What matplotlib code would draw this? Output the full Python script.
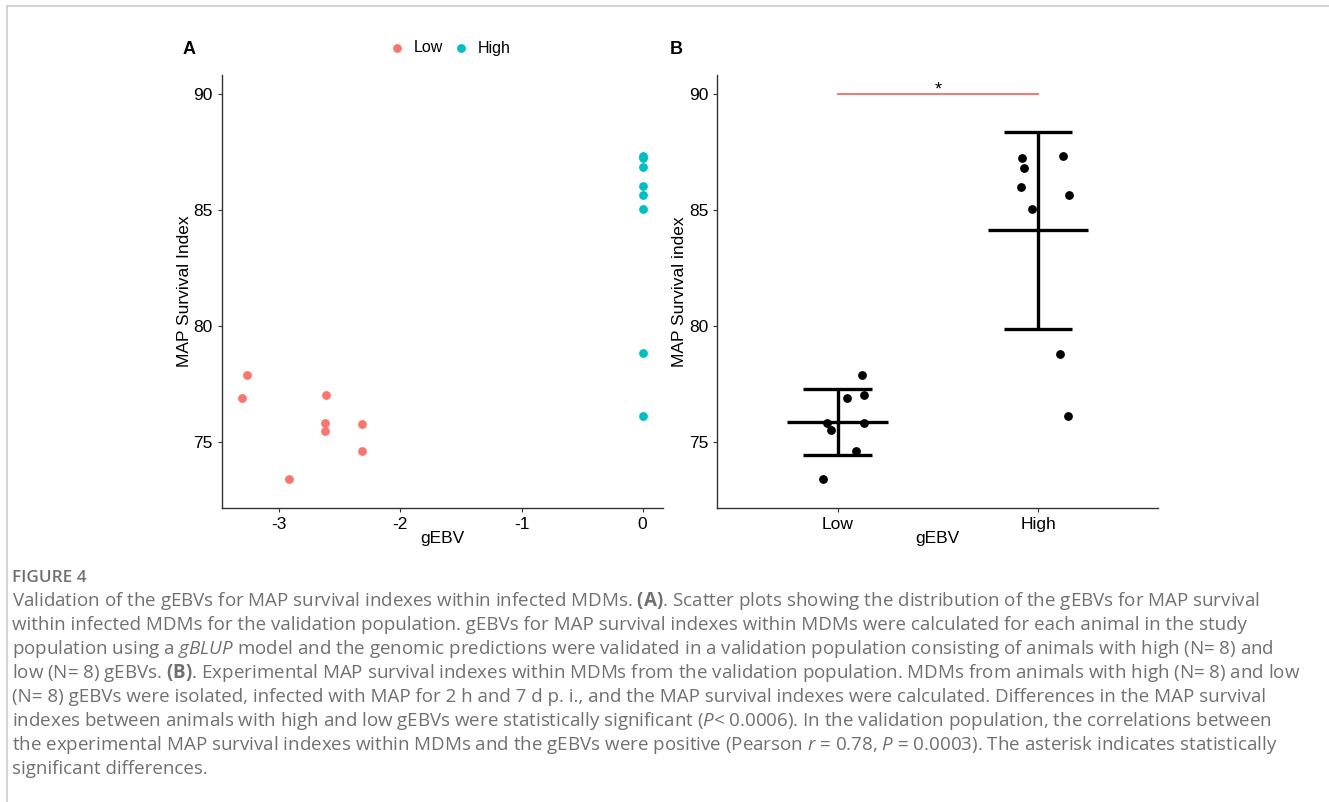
import matplotlib
matplotlib.use('Agg')
import matplotlib.pyplot as plt
from matplotlib.lines import Line2D
import numpy as np

plt.rcParams['font.family'] = ['Liberation Sans', 'DejaVu Sans']
plt.rcParams['axes.unicode_minus'] = False
plt.rcParams['mathtext.fontset'] = 'custom'
plt.rcParams['mathtext.rm'] = 'Open Sans'
plt.rcParams['mathtext.it'] = 'Open Sans:italic'
plt.rcParams['mathtext.bf'] = 'Open Sans:bold'

RED = '#F8766D'
TEAL = '#00BFC4'

# panel A: gEBV vs MAP survival index
low_gebv = [-3.265, -3.309, -2.613, -2.623, -2.623, -2.315, -2.315, -2.92]
low_index = [77.89, 76.91, 77.04, 75.83, 75.49, 75.79, 74.60, 73.42]
high_gebv = [0, 0, 0, 0, 0, 0, 0, 0]
high_index = [87.33, 87.27, 86.87, 86.03, 85.67, 85.06, 78.82, 76.13]

# panel B: jittered positions of the same animals
groups = ['Low', 'High']
low_jitter = [1.123, 1.045, 1.131, 0.945, 0.965, 1.134, 1.091, 0.927]
low_b = [77.88, 76.90, 77.03, 75.80, 75.50, 75.80, 74.60, 73.42]
high_jitter = [1.92, 2.125, 1.929, 1.917, 2.156, 1.969, 2.11, 2.148]
high_b = [87.26, 87.32, 86.82, 86.00, 85.67, 85.05, 78.80, 76.13]

caption_lines = [
    r"Validation of the gEBVs for MAP survival indexes within infected MDMs. $\mathbf{(A)}$. Scatter plots showing the distribution of the gEBVs for MAP survival",
    "within infected MDMs for the validation population. gEBVs for MAP survival indexes within MDMs were calculated for each animal in the study",
    r"population using a $\mathit{gBLUP}$ model and the genomic predictions were validated in a validation population consisting of animals with high (N= 8) and",
    r"low (N= 8) gEBVs. $\mathbf{(B)}$. Experimental MAP survival indexes within MDMs from the validation population. MDMs from animals with high (N= 8) and low",
    "(N= 8) gEBVs were isolated, infected with MAP for 2 h and 7 d p. i., and the MAP survival indexes were calculated. Differences in the MAP survival",
    r"indexes between animals with high and low gEBVs were statistically significant ($\mathit{P}$< 0.0006). In the validation population, the correlations between",
    r"the experimental MAP survival indexes within MDMs and the gEBVs were positive (Pearson $\mathit{r}$ = 0.78, $\mathit{P}$ = 0.0003). The asterisk indicates statistically",
    "significant differences.",
]

W, H = 1329, 802
fig = plt.figure(figsize=(W / 100, H / 100), dpi=100)


def style_axes(ax):
    for side in ['top', 'right']:
        ax.spines[side].set_visible(False)
    for side in ['left', 'bottom']:
        ax.spines[side].set_color('#333333')
        ax.spines[side].set_linewidth(1.0)
    ax.tick_params(colors='#333333', length=3, width=0.8, labelsize=12.5, labelcolor='black')
    ax.set_ylim(72.15, 90.83)
    ax.set_yticks([75, 80, 85, 90])


axA = fig.add_axes([222 / W, 1 - 508 / H, 441 / W, 433 / H])
sc_low = axA.scatter(low_gebv, low_index, s=40, color=RED, linewidths=0, label='Low')
sc_high = axA.scatter(high_gebv, high_index, s=40, color=TEAL, linewidths=0, label='High')
axA.set_xlim(-3.473, 0.168)
axA.set_xticks([-3, -2, -1, 0])
style_axes(axA)
axA.set_xlabel('gEBV', fontsize=12.5)
axA.set_ylabel('MAP Survival Index', fontsize=12.5)
axA.xaxis.set_label_coords(0.5, -0.07)
axA.xaxis.label.set_va('center')
axA.yaxis.set_label_coords(-0.084, 0.5)
axA.yaxis.label.set_va('center')

axB = fig.add_axes([717.3 / W, 1 - 508 / H, 441 / W, 433 / H])
axB.scatter(low_jitter, low_b, s=40, color='black', linewidths=0)
axB.scatter(high_jitter, high_b, s=40, color='black', linewidths=0)
for pos, vals in zip([1, 2], [low_b, high_b]):
    m = np.mean(vals)
    sd = np.std(vals, ddof=1)
    axB.vlines(pos, m - sd, m + sd, color='black', lw=2.4)
    axB.hlines([m - sd, m + sd], pos - 0.17, pos + 0.17, color='black', lw=2.4)
    axB.hlines(m, pos - 0.25, pos + 0.25, color='black', lw=2.4)
axB.plot([1, 2], [90, 90], color=RED, lw=1.4)
axB.text(1.5, 89.8, '*', ha='center', va='bottom', fontsize=13)
axB.set_xlim(0.4, 2.6)
axB.set_xticks([1, 2])
axB.set_xticklabels(groups)
style_axes(axB)
axB.set_xlabel('gEBV', fontsize=12.5)
axB.set_ylabel('MAP Survival index', fontsize=12.5)
axB.xaxis.set_label_coords(0.5, -0.07)
axB.xaxis.label.set_va('center')
axB.yaxis.set_label_coords(-0.085, 0.5)
axB.yaxis.label.set_va('center')

fig.text(189 / W, 1 - 50 / H, 'A', fontsize=13, fontweight='bold', ha='center', va='center')
fig.text(676 / W, 1 - 50 / H, 'B', fontsize=13, fontweight='bold', ha='center', va='center')

fig.legend([sc_low, sc_high], ['Low', 'High'], loc='center',
           bbox_to_anchor=(450 / W, 1 - 48 / H), ncol=2, frameon=False,
           fontsize=11.5, handlelength=0.9, handletextpad=0.6, columnspacing=0.7)

# page frame
fig.add_artist(Line2D([7 / W, 1], [1 - 6 / H, 1 - 6 / H], color='#cccccc', lw=1.2))
fig.add_artist(Line2D([7 / W, 7 / W], [0, 1 - 6 / H], color='#cccccc', lw=1.2))

fig.text(12 / W, 1 - 578 / H, 'FIGURE 4', fontsize=12.3, color='#707070',
         fontweight='semibold', family='Open Sans', va='center')
for i, line in enumerate(caption_lines):
    fig.text(12 / W, 1 - (601 + 24 * i) / H, line, fontsize=13.5, color='#707070',
             family='Open Sans', va='center')

fig.savefig('out.png', dpi=100)
